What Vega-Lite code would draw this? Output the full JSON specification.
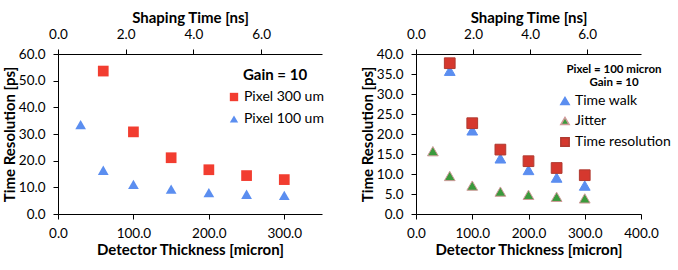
{
  "$schema": "https://vega.github.io/schema/vega-lite/v6.json",
  "padding": {"left": 2, "top": 10, "right": 0, "bottom": 0},
  "spacing": 36,
  "config": {
    "font": "Lato",
    "view": {"stroke": null},
    "axis": {"grid": false, "domainColor": "#000", "tickColor": "#000", "labelColor": "#000", "titleColor": "#000", "labelFont": "Lato", "titleFont": "Lato", "labelFontSize": 13.5, "titleFontSize": 15, "titleFontWeight": "bold", "tickSize": 5, "labelPadding": 8, "titlePadding": 1, "labelFlush": false},
    "axisBottom": {"titlePadding": 3, "labelPadding": 7},
    "axisTop": {"titlePadding": 2}
  },
  "resolve": {"scale": {"color": "independent", "shape": "independent", "stroke": "independent", "x": "independent", "y": "independent"}, "legend": {"color": "independent", "shape": "independent"}},
  "hconcat": [
    {
      "width": 264,
      "height": 160,
      "data": {"values": [
        {"series": "Pixel 100 um", "thickness": 30, "res": 33.5},
        {"series": "Pixel 100 um", "thickness": 60, "res": 16.4},
        {"series": "Pixel 100 um", "thickness": 100, "res": 11.1},
        {"series": "Pixel 100 um", "thickness": 150, "res": 9.3},
        {"series": "Pixel 100 um", "thickness": 200, "res": 8.0},
        {"series": "Pixel 100 um", "thickness": 250, "res": 7.4},
        {"series": "Pixel 100 um", "thickness": 300, "res": 7.0},
        {"series": "Pixel 300 um", "thickness": 60, "res": 53.6},
        {"series": "Pixel 300 um", "thickness": 100, "res": 30.8},
        {"series": "Pixel 300 um", "thickness": 150, "res": 21.1},
        {"series": "Pixel 300 um", "thickness": 200, "res": 16.6},
        {"series": "Pixel 300 um", "thickness": 250, "res": 14.4},
        {"series": "Pixel 300 um", "thickness": 300, "res": 12.9}
      ]},
      "layer": [
        {
          "mark": {"type": "point", "filled": true, "opacity": 1},
          "encoding": {
            "x": {"field": "thickness", "type": "quantitative", "scale": {"domain": [0, 350], "nice": false}, "axis": {"title": "Detector Thickness [micron]", "values": [0, 100, 200, 300], "format": ".1f"}},
            "y": {"field": "res", "type": "quantitative", "scale": {"domain": [0, 60], "nice": false}, "axis": {"title": "Time Resolution [ps]", "values": [0, 10, 20, 30, 40, 50, 60], "format": ".1f"}},
            "color": {"field": "series", "type": "nominal", "scale": {"domain": ["Pixel 300 um", "Pixel 100 um"], "range": ["#f23d30", "#5b8ef0"]},
              "legend": {"title": "Gain = 10", "orient": "none", "legendX": 169, "legendY": 14, "titleFontSize": 15, "titleFontWeight": "bold", "titleColor": "#000", "titleAnchor": "middle", "labelFontSize": 14, "labelColor": "#000", "symbolSize": 70, "rowPadding": 8, "titlePadding": 7, "labelOffset": 3}},
            "shape": {"field": "series", "type": "nominal", "scale": {"domain": ["Pixel 300 um", "Pixel 100 um"], "range": ["square", "triangle-up"]}},
            "size": {"value": 115}
          }
        },
        {
          "mark": {"type": "point", "opacity": 0},
          "encoding": {
            "x": {"datum": 0, "type": "quantitative", "scale": {"domain": [0, 7.8], "nice": false}, "axis": {"orient": "top", "title": "Shaping Time [ns]", "values": [0, 2, 4, 6], "format": ".1f"}}
          }
        }
      ],
      "resolve": {"scale": {"x": "independent"}, "axis": {"x": "independent"}}
    },
    {
      "width": 225,
      "height": 160,
      "data": {"values": [
        {"series": "Time walk", "thickness": 60, "res": 35.8},
        {"series": "Time walk", "thickness": 100, "res": 20.9},
        {"series": "Time walk", "thickness": 150, "res": 13.9},
        {"series": "Time walk", "thickness": 200, "res": 11.0},
        {"series": "Time walk", "thickness": 250, "res": 9.1},
        {"series": "Time walk", "thickness": 300, "res": 7.1},
        {"series": "Jitter", "thickness": 30, "res": 15.7},
        {"series": "Jitter", "thickness": 60, "res": 9.5},
        {"series": "Jitter", "thickness": 100, "res": 7.1},
        {"series": "Jitter", "thickness": 150, "res": 5.6},
        {"series": "Jitter", "thickness": 200, "res": 4.8},
        {"series": "Jitter", "thickness": 250, "res": 4.3},
        {"series": "Jitter", "thickness": 300, "res": 3.9},
        {"series": "Time resolution", "thickness": 60, "res": 37.7},
        {"series": "Time resolution", "thickness": 100, "res": 22.7},
        {"series": "Time resolution", "thickness": 150, "res": 16.1},
        {"series": "Time resolution", "thickness": 200, "res": 13.2},
        {"series": "Time resolution", "thickness": 250, "res": 11.5},
        {"series": "Time resolution", "thickness": 300, "res": 9.7}
      ]},
      "layer": [
        {
          "mark": {"type": "point", "filled": true, "opacity": 1, "strokeWidth": 1},
          "encoding": {
            "x": {"field": "thickness", "type": "quantitative", "scale": {"domain": [0, 400], "nice": false}, "axis": {"title": "Detector Thickness [micron]", "values": [0, 100, 200, 300, 400], "format": ".1f"}},
            "y": {"field": "res", "type": "quantitative", "scale": {"domain": [0, 40], "nice": false}, "axis": {"title": "Time Resolution [ps]", "values": [0, 5, 10, 15, 20, 25, 30, 35, 40], "format": ".1f"}},
            "color": {"field": "series", "type": "nominal", "scale": {"domain": ["Time walk", "Jitter", "Time resolution"], "range": ["#5b8ef0", "#3a9a3c", "#d5382e"]},
              "legend": {"title": ["Pixel = 100 micron", "Gain = 10"], "orient": "none", "legendX": 142, "legendY": 10, "titleFontSize": 11.5, "titleFontWeight": "bold", "titleColor": "#000", "titleAnchor": "middle", "titleAlign": "center", "titleLineHeight": 12.5, "labelFontSize": 14, "labelColor": "#000", "symbolSize": 70, "rowPadding": 6, "titlePadding": 6, "labelOffset": 3}},
            "shape": {"field": "series", "type": "nominal", "scale": {"domain": ["Time walk", "Jitter", "Time resolution"], "range": ["triangle-up", "triangle-up", "square"]}},
            "stroke": {"field": "series", "type": "nominal", "scale": {"domain": ["Time walk", "Jitter", "Time resolution"], "range": ["#5b8ef0", "#d09a9a", "#b03a30"]}, "legend": null},
            "size": {"value": 115}
          }
        },
        {
          "mark": {"type": "point", "opacity": 0},
          "encoding": {
            "x": {"datum": 0, "type": "quantitative", "scale": {"domain": [0, 7.89], "nice": false}, "axis": {"orient": "top", "title": "Shaping Time [ns]", "values": [0, 2, 4, 6], "format": ".1f"}}
          }
        }
      ],
      "resolve": {"scale": {"x": "independent"}, "axis": {"x": "independent"}}
    }
  ]
}
